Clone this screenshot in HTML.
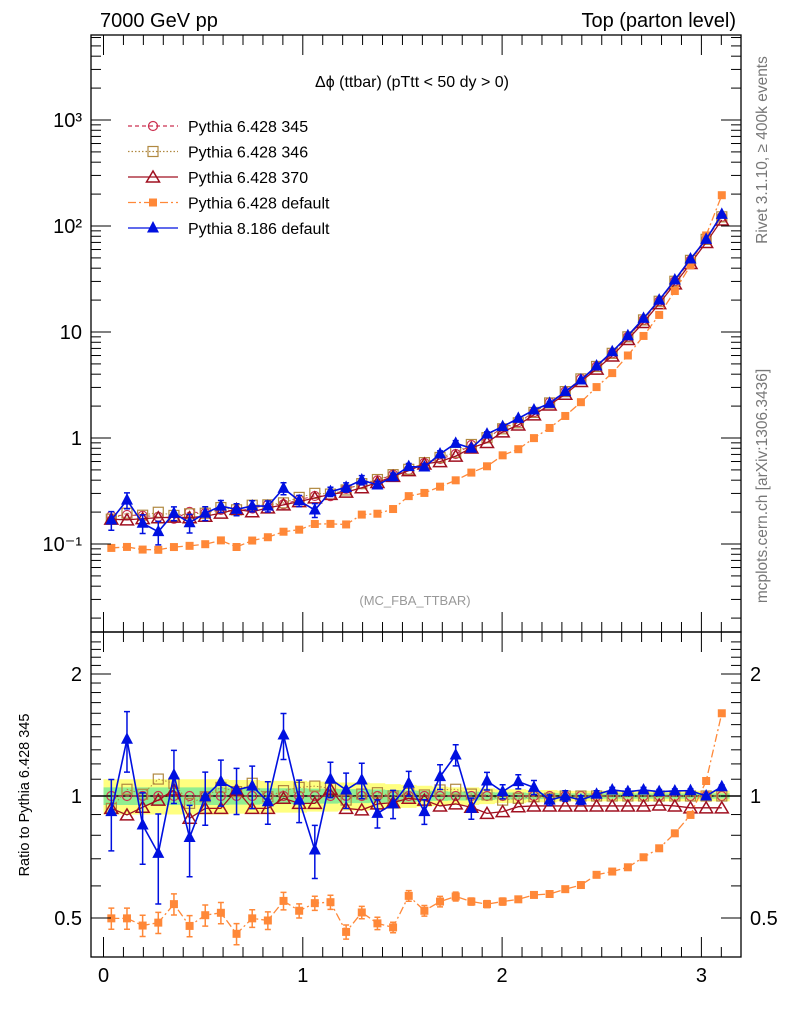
<!DOCTYPE html>
<html><head><meta charset="utf-8">
<style>
body{margin:0;background:#fff;}
svg{display:block;font-family:"Liberation Sans",sans-serif;}
</style></head>
<body>
<svg id="chart" width="786" height="1024" viewBox="0 0 786 1024" xmlns="http://www.w3.org/2000/svg">
<text x="100" y="27" font-size="20">7000 GeV pp</text>
<text x="736" y="27" font-size="20" text-anchor="end">Top (parton level)</text>
<text x="412" y="87" font-size="16" text-anchor="middle">Δϕ (ttbar) (pTtt &lt; 50 dy &gt; 0)</text>
<text x="415" y="605" font-size="13" fill="#999" text-anchor="middle">(MC_FBA_TTBAR)</text>
<text transform="translate(767,150) rotate(-90)" font-size="15.5" fill="#777" text-anchor="middle">Rivet 3.1.10, ≥ 400k events</text>
<text transform="translate(767,486) rotate(-90)" font-size="15.5" fill="#777" text-anchor="middle">mcplots.cern.ch [arXiv:1306.3436]</text>
<text transform="translate(29,795) rotate(-90)" font-size="14.5" text-anchor="middle">Ratio to Pythia 6.428 345</text>
<g id="g"></g>
</svg>
<script>
// ---- data ----
const binCenters = [];
for (let k = 0; k < 40; k++) binCenters.push((k + 0.5) * Math.PI / 40);
const refValues = [0.184,0.188,0.185,0.181,0.173,0.201,0.196,0.210,0.205,0.216,0.235,0.237,0.262,0.284,0.283,0.331,0.367,0.398,0.451,0.499,0.582,0.633,0.706,0.859,1.0,1.25,1.41,1.75,2.17,2.74,3.61,4.73,6.29,9.0,13.0,19.5,30.1,47.4,74.8,122];
const refBand = [0.10,0.10,0.10,0.10,0.10,0.10,0.10,0.10,0.095,0.095,0.09,0.09,0.09,0.085,0.085,0.08,0.08,0.075,0.07,0.065,0.06,0.055,0.05,0.05,0.045,0.04,0.04,0.035,0.035,0.03,0.03,0.03,0.03,0.03,0.03,0.03,0.03,0.03,0.03,0.03];
const ratio346 = [0.932,1.039,1.01,1.101,1.075,0.959,0.996,1.05,1.025,1.075,0.996,1.031,1.05,1.058,1.045,0.977,1.011,1.019,1.0,1.015,1.006,1.035,1.039,1.011,1.006,0.977,0.987,0.996,0.987,1.0,1.0,1.0,1.0,1.0,1.0,1.0,1.0,1.0,1.0,1.0];
const ratio370 = [0.932,0.898,0.938,0.977,1.035,0.881,0.932,0.932,1.035,0.932,0.932,0.987,0.959,0.959,1.039,0.932,0.924,0.956,0.963,0.987,0.977,0.945,0.956,0.938,0.906,0.915,0.941,0.945,0.945,0.945,0.945,0.945,0.945,0.945,0.945,0.95,0.945,0.935,0.935,0.935];
const ratioDef6 = [0.499,0.499,0.479,0.487,0.541,0.478,0.508,0.515,0.457,0.499,0.493,0.551,0.521,0.544,0.547,0.462,0.516,0.485,0.474,0.567,0.521,0.549,0.565,0.549,0.541,0.549,0.556,0.57,0.573,0.589,0.603,0.639,0.651,0.667,0.706,0.743,0.809,0.898,1.089,1.6];
const errDef6 = [0.06,0.06,0.06,0.06,0.06,0.06,0.06,0.06,0.06,0.05,0.05,0.05,0.04,0.04,0.04,0.04,0.035,0.035,0.03,0.03,0.03,0.03,0.025,0.02,0.02,0.02,0.015,0.015,0.01,0.01,0.01,0.01,0.01,0.01,0.01,0.01,0.01,0.01,0.01,0.01];
const ratioP8 = [0.915,1.38,0.848,0.722,1.127,0.79,0.996,1.085,1.035,1.058,0.968,1.414,0.977,0.736,1.101,1.035,1.095,0.906,0.956,1.075,0.915,1.116,1.262,0.932,1.089,1.025,1.085,1.05,0.977,1.0,0.977,1.01,1.035,1.025,1.035,1.025,1.029,1.031,1.0,1.054];
const errP8 = [0.2,0.17,0.2,0.25,0.15,0.2,0.15,0.13,0.13,0.12,0.12,0.13,0.12,0.15,0.1,0.1,0.1,0.08,0.08,0.07,0.07,0.07,0.06,0.06,0.05,0.04,0.04,0.04,0.03,0.03,0.025,0.02,0.015,0.015,0.015,0.012,0.012,0.01,0.01,0.01];
const mainTickLabels = ["10³","10²","10","1","10⁻¹"];
const mainTickValues = [1000,100,10,1,0.1];
const ratioTickValues = [2,1,0.5];
const xTickValues = [0,1,2,3];

// ---- geometry ----
const L=91,R=741,T=35,M=632,B=957;
const X = v => 103.5 + v*199.3;
const Ym = v => 438 - Math.log10(v)*106;
const Yr = v => 796 - Math.log2(v)*122;
const NS="http://www.w3.org/2000/svg";
const g=document.getElementById('g');
function el(tag,attrs,parent){const e=document.createElementNS(NS,tag);for(const k in attrs)e.setAttribute(k,attrs[k]);(parent||g).appendChild(e);return e;}

const defs=el('defs',{});
const c1=el('clipPath',{id:'cm'},defs);el('rect',{x:L,y:T,width:R-L,height:M-T},c1);
const c2=el('clipPath',{id:'cr'},defs);el('rect',{x:L,y:M,width:R-L,height:B-M},c2);
const gm=el('g',{'clip-path':'url(#cm)'});


const gr=el('g',{'clip-path':'url(#cr)'});



const hw=Math.PI/80;
const up=[],dn=[],up2=[],dn2=[];
binCenters.forEach((c,i)=>{
 up.push([X(c-hw),Yr(1+refBand[i])],[X(c+hw),Yr(1+refBand[i])]);
 dn.push([X(c-hw),Yr(1-refBand[i])],[X(c+hw),Yr(1-refBand[i])]);
 up2.push([X(c-hw),Yr(1+refBand[i]/2)],[X(c+hw),Yr(1+refBand[i]/2)]);
 dn2.push([X(c-hw),Yr(1-refBand[i]/2)],[X(c+hw),Yr(1-refBand[i]/2)]);
});
const poly=(a,b)=>a.concat(b.slice().reverse()).map(p=>p.join(',')).join(' ');
const yb=el('polygon',{points:poly(up,dn),fill:'#ffff80'},gr);


const gb=el('polygon',{points:poly(up2,dn2),fill:'#90ee90'},gr);


const one=el('line',{x1:L,x2:R,y1:Yr(1),y2:Yr(1),stroke:'#000','stroke-width':1.5},gr);



function marker(parent,type,x,y,color,name){
 let m;
 if(type==='circle') m=el('circle',{cx:x,cy:y,r:4.5,fill:'none',stroke:color,'stroke-width':1.2},parent);
 else if(type==='osq') m=el('rect',{x:x-5,y:y-5,width:10,height:10,fill:'none',stroke:color,'stroke-width':1.2},parent);
 else if(type==='fsq') m=el('rect',{x:x-4,y:y-4,width:8,height:8,fill:color},parent);
 else if(type==='otri') m=el('polygon',{points:`${x},${y-6} ${x-6.5},${y+5} ${x+6.5},${y+5}`,fill:'none',stroke:color,'stroke-width':1.5},parent);
 else m=el('polygon',{points:`${x},${y-7} ${x-6},${y+4.5} ${x+6},${y+4.5}`,fill:color},parent);
 
 
}
function series(name,ratios,errs,color,dash,type,sw){
 const vals=refValues.map((r,i)=>r*ratios[i]);
 [[gm,vals,Ym,'main'],[gr,ratios,Yr,'ratio']].forEach(([par,arr,Y,tag])=>{
  const sg=el('g',{},par);
  
  
  const pl=el('polyline',{points:arr.map((v,i)=>X(binCenters[i])+','+Y(v)).join(' '),fill:'none',stroke:color,'stroke-width':sw,'stroke-dasharray':dash},sg);
  
  
  if(errs){arr.forEach((v,i)=>{const x=X(binCenters[i]);const y1=Y(v*(1+errs[i])),y2=Y(v*(1-errs[i]));
   const e=el('path',{d:`M${x},${y1}V${y2}M${x-3},${y1}H${x+3}M${x-3},${y2}H${x+3}`,stroke:color,'stroke-width':1.5,fill:'none'},sg);
   
   });}
  arr.forEach((v,i)=>marker(sg,type,X(binCenters[i]),Y(v),color,name+'-point'));
 });
}
const ones=refValues.map(()=>1);
series('pythia6-345',ones,null,'#cc3050','4,3','circle',1);
series('pythia6-346',ratio346,null,'#b08840','1.5,2','osq',1);
series('pythia6-370',ratio370,null,'#a01020','','otri',1.3);
series('pythia6-default',ratioDef6,errDef6,'#ff8838','8,3,2,3','fsq',1.3);
series('pythia8-default',ratioP8,errP8,'#0010e0','','ftri',1.6);

[[T,M,'main-frame'],[M,B,'ratio-frame']].forEach(([a,b,n])=>{const f=el('rect',{x:L,y:a,width:R-L,height:b-a,fill:'none',stroke:'#000','stroke-width':1.3});});

for(let d=-2;d<=3;d++){for(let m=1;m<10;m++){const v=m*Math.pow(10,d);const y=Ym(v);if(y<T||y>M)continue;const len=m===1?20:10;
 el('line',{x1:L,x2:L+len,y1:y,y2:y,stroke:'#000','stroke-width':1});el('line',{x1:R,x2:R-len,y1:y,y2:y,stroke:'#000','stroke-width':1});}}
mainTickValues.forEach((v,i)=>{const t=el('text',{x:82,y:Ym(v)+7,'font-size':20,'text-anchor':'end'});t.textContent=mainTickLabels[i];});
for(let v=0.4;v<=2.5;v+=0.1){const y=Yr(v);if(y<M||y>B)continue;const maj=Math.abs(v-0.5)<1e-6||Math.abs(v-1)<1e-6||Math.abs(v-2)<1e-6;const len=maj?20:10;
 el('line',{x1:L,x2:L+len,y1:y,y2:y,stroke:'#000','stroke-width':1});el('line',{x1:R,x2:R-len,y1:y,y2:y,stroke:'#000','stroke-width':1});}
ratioTickValues.forEach(v=>{[[82,'end'],[750,'start']].forEach(([x,a])=>{const t=el('text',{x:x,y:Yr(v)+7,'font-size':20,'text-anchor':a});t.textContent=String(v);});});
for(let i=0;i<=31;i++){const v=i/10;const x=X(v);if(x>R)continue;const len=i%10===0?20:10;
 [[T,1],[M,1],[M,-1],[B,-1]].forEach(([y,s])=>el('line',{x1:x,x2:x,y1:y,y2:y+s*len,stroke:'#000','stroke-width':1}));}
xTickValues.forEach(v=>{const t=el('text',{x:X(v),y:982,'font-size':20,'text-anchor':'middle'});t.textContent=String(v);});

const legNames=['Pythia 6.428 345','Pythia 6.428 346','Pythia 6.428 370','Pythia 6.428 default','Pythia 8.186 default'];
const legColors=['#cc3050','#b08840','#a01020','#ff8838','#0010e0'];
const legDash=['4,3','1.5,2','','8,3,2,3',''];
const legType=['circle','osq','otri','fsq','ftri'];
legNames.forEach((n,i)=>{const y=126+i*25.5;const lg=el('g',{});
 
 
 el('line',{x1:128,x2:178,y1:y,y2:y,stroke:legColors[i],'stroke-width':1.3,'stroke-dasharray':legDash[i]},lg);
 marker(lg,legType[i],153,y,legColors[i],'legend-marker');
 const t=el('text',{x:188,y:y+6,'font-size':16},lg);t.textContent=n;});
</script>
</body></html>
